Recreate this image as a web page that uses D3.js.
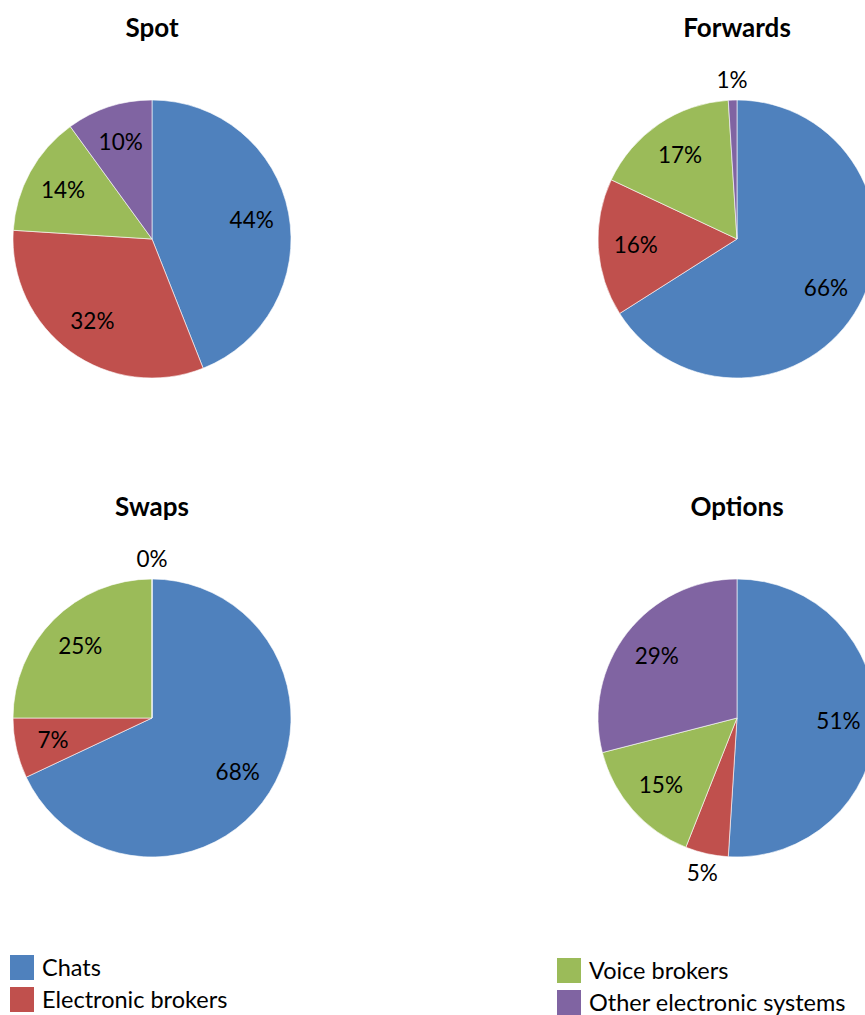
<!DOCTYPE html>
<html>
<head>
<meta charset="utf-8">
<script src="https://cdn.jsdelivr.net/npm/d3@7"></script>
<style>
  body { margin: 0; background: #fff; }
  svg { font-family: Lato, "Open Sans", sans-serif; }
</style>
</head>
<body>
<script>
// categories in clockwise order from 12 o'clock
var categories = ["Chats", "Electronic brokers", "Voice brokers", "Other electronic systems"];
var colors = ["#4F81BD", "#C0504D", "#9BBB59", "#8064A2"];

var panels = ["Spot", "Forwards", "Swaps", "Options"];
var spotValues = [44, 32, 14, 10];
var forwardsValues = [66, 16, 17, 1];
var swapsValues = [68, 7, 25, 0];
var optionsValues = [51, 5, 15, 29];
var allValues = [spotValues, forwardsValues, swapsValues, optionsValues];

var width = 865, height = 1015, radius = 139;

var svg = d3.select("body").append("svg")
  .attr("width", width)
  .attr("height", height);

// column / row placement of the pie centres
var xPos = d3.scalePoint().domain([0, 1]).range([152, 737]);
var yPos = d3.scalePoint().domain([0, 1]).range([239, 718]);

var pie = d3.pie().sort(null).value(function(d) { return d; });
var arc = d3.arc().innerRadius(0).outerRadius(radius);
var inLabel = d3.arc().innerRadius(radius * 0.73).outerRadius(radius * 0.73);
var outLabel = d3.arc().innerRadius(radius + 20).outerRadius(radius + 20);

panels.forEach(function(name, i) {
  var cx = xPos(i % 2), cy = yPos(Math.floor(i / 2));
  var g = svg.append("g").attr("transform", "translate(" + cx + "," + cy + ")");

  g.append("text")
    .attr("x", 0)
    .attr("y", -radius - 63)
    .attr("text-anchor", "middle")
    .attr("font-weight", "bold")
    .attr("font-size", 26)
    .text(name);

  var slices = pie(allValues[i]);

  g.selectAll("path")
    .data(slices)
    .enter().append("path")
    .attr("d", arc)
    .attr("fill", function(d, j) { return colors[j]; })
    .attr("stroke", "#fff")
    .attr("stroke-width", 0.6);

  // small slices get their label outside the pie
  g.selectAll("text.lbl")
    .data(slices)
    .enter().append("text")
    .attr("class", "lbl")
    .attr("transform", function(d) {
      var c = d.data <= 5 ? outLabel.centroid(d) : inLabel.centroid(d);
      return "translate(" + c + ")";
    })
    .attr("text-anchor", "middle")
    .attr("dy", "0.35em")
    .attr("font-size", 22.5)
    .text(function(d) { return d.data + "%"; });
});

// legend, two columns
var legendX = [10, 557], legendY = [955, 987, 958, 990];
var leg = svg.selectAll("g.legend")
  .data(categories)
  .enter().append("g")
  .attr("class", "legend")
  .attr("transform", function(d, i) {
    return "translate(" + legendX[Math.floor(i / 2)] + "," + legendY[i] + ")";
  });

leg.append("rect")
  .attr("width", 24).attr("height", 25)
  .attr("fill", function(d, i) { return colors[i]; });

leg.append("text")
  .attr("x", 32).attr("y", 21)
  .attr("font-size", 23.5)
  .text(function(d) { return d; });
</script>
</body>
</html>
